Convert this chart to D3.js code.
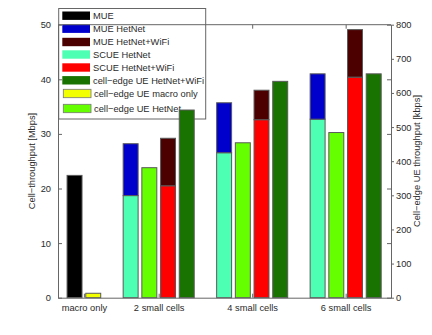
<!DOCTYPE html>
<html><head><meta charset="utf-8">
<script src="https://cdn.jsdelivr.net/npm/d3@7"></script>
<style>body{margin:0;background:#fff}text{font-family:"Liberation Sans",Arial,sans-serif}</style>
</head><body><svg id="c" width="432" height="335"></svg>
<script>
// ---- data ----
const categories = ["macro only","2 small cells","4 small cells","6 small cells"];
const catPos = [1.2, 2, 3, 4];
const mue = [22.4];                         // Mbps, macro only
const cellEdgeMacroOnly = [13];             // kbps, macro only
const scueHetNet = [18.7, 26.55, 32.7];     // Mbps (2,4,6 small cells)
const mueHetNet = [9.5, 9.15, 8.3];         // Mbps, stacked on SCUE HetNet
const scueHetNetWifi = [20.5, 32.6, 40.4];  // Mbps
const mueHetNetWifi = [8.7, 5.4, 8.7];      // Mbps, stacked on SCUE HetNet+WiFi
const cellEdgeHetNet = [381, 454, 484];     // kbps
const cellEdgeHetNetWifi = [550, 634, 656]; // kbps
const leftTicks = [0,10,20,30,40,50];
const rightTicks = [0,100,200,300,400,500,600,700,800];
const legendItems = [
  {label:"MUE", color:"#000000"},
  {label:"MUE HetNet", color:"#0000cc"},
  {label:"MUE HetNet+WiFi", color:"#4c0000"},
  {label:"SCUE HetNet", color:"#4dffb3"},
  {label:"SCUE HetNet+WiFi", color:"#ff0000"},
  {label:"cell\u2212edge UE HetNet+WiFi", color:"#197300"},
  {label:"cell\u2212edge UE macro only", color:"#f2ff00"},
  {label:"cell\u2212edge UE HetNet", color:"#66ff00"}
];
const col = Object.fromEntries(legendItems.map(d=>[d.label,d.color]));

// ---- layout ----
const L=58, R=391, T=24.7, B=297.7;
const FS=9.3, axisCol="#666", txtCol="#2a2a2a", edge="#5a5a5a";
const svg=d3.select("#c");
const x=d3.scaleLinear().domain([0.923,4.485]).range([L,R]);
const yL=d3.scaleLinear().domain([0,50]).range([B,T]);
const yR=d3.scaleLinear().domain([0,800]).range([B,T]);
const bw=0.16, slot=0.2;

// ---- legend (drawn below right-axis bars) ----
const lg=svg.append("g");
lg.append("rect").attr("x",58.7).attr("y",8.5).attr("width",147).attr("height",110.5)
  .attr("fill","#fff").attr("stroke",axisCol).attr("stroke-width",1);
const rowY=[15.7,28.7,42,54.5,67.5,80.3,93.5,108.5];
legendItems.forEach((d,i)=>{
  const off = i>=6 ? 1 : 0;
  lg.append("rect").attr("x",62.3+off).attr("y",rowY[i]-4.2).attr("width",27.7).attr("height",8.4)
    .attr("fill",d.color).attr("stroke", i>=6?"#777":"none").attr("stroke-width",0.8);
  lg.append("text").attr("x",93+off).attr("y",rowY[i]+3.3).attr("font-size",FS).attr("fill",txtCol).text(d.label);
});

// ---- bars ----
const g=svg.append("g");
function bar(xc, y0, y1, color){
  g.append("rect").attr("x",x(xc-bw/2)).attr("width",x(xc+bw/2)-x(xc-bw/2))
   .attr("y",Math.min(y0,y1)).attr("height",Math.abs(y0-y1))
   .attr("fill",color).attr("stroke",edge).attr("stroke-width",1);
}
// macro only
bar(catPos[0]-slot/2, yL(0), yL(mue[0]), col["MUE"]);
bar(catPos[0]+slot/2, yR(0), yR(cellEdgeMacroOnly[0]), col["cell\u2212edge UE macro only"]);
// small cells
for(let i=0;i<3;i++){
  const c=catPos[i+1];
  bar(c-1.5*slot, yL(0), yL(scueHetNet[i]), col["SCUE HetNet"]);
  bar(c-1.5*slot, yL(scueHetNet[i]), yL(scueHetNet[i]+mueHetNet[i]), col["MUE HetNet"]);
  bar(c-0.5*slot, yR(0), yR(cellEdgeHetNet[i]), col["cell\u2212edge UE HetNet"]);
  bar(c+0.5*slot, yL(0), yL(scueHetNetWifi[i]), col["SCUE HetNet+WiFi"]);
  bar(c+0.5*slot, yL(scueHetNetWifi[i]), yL(scueHetNetWifi[i]+mueHetNetWifi[i]), col["MUE HetNet+WiFi"]);
  bar(c+1.5*slot, yR(0), yR(cellEdgeHetNetWifi[i]), col["cell\u2212edge UE HetNet+WiFi"]);
}

// ---- axes ----
const xb=d3.axisBottom(x).tickValues(catPos).tickFormat((d,i)=>categories[i]).tickSizeInner(-4).tickSizeOuter(0).tickPadding(7);
const gb=svg.append("g").attr("transform",`translate(0,${B})`).call(xb);
const xt=d3.axisTop(x).tickValues(catPos).tickFormat("").tickSizeInner(-4).tickSizeOuter(0);
const gt=svg.append("g").attr("transform",`translate(0,${T})`).call(xt);
const yl=d3.axisLeft(yL).tickValues(leftTicks).tickSizeInner(-4).tickSizeOuter(0).tickPadding(7);
const gl=svg.append("g").attr("transform",`translate(${L},0)`).call(yl);
const ylm=d3.axisRight(yL).tickValues(leftTicks).tickFormat("").tickSizeInner(-4).tickSizeOuter(0);
const glm=svg.append("g").attr("transform",`translate(${R},0)`).call(ylm);
const yr=d3.axisRight(yR).tickValues(rightTicks).tickSizeInner(3).tickSizeOuter(0).tickPadding(2);
const gr=svg.append("g").attr("transform",`translate(${R},0)`).call(yr);

[gb,gt,gl,glm,gr].forEach(s=>{
  s.selectAll("path,line").attr("stroke",axisCol);
  s.selectAll("text").attr("font-size",FS).attr("fill",txtCol).attr("font-family","Liberation Sans, Arial, sans-serif");
});
gt.select("path").remove(); glm.select("path").remove();
svg.append("line").attr("x1",L).attr("x2",R).attr("y1",T).attr("y2",T).attr("stroke",axisCol);
svg.node().insertBefore(gt.node(), lg.node());

// axis titles
svg.append("text").attr("transform",`translate(35,161) rotate(-90)`).attr("text-anchor","middle")
  .attr("font-size",FS).attr("fill",txtCol).text("Cell\u2212throughput [Mbps]");
svg.append("text").attr("transform",`translate(420,161) rotate(-90)`).attr("text-anchor","middle")
  .attr("font-size",FS).attr("fill",txtCol).text("Cell\u2212edge UE throughput [kbps]");
</script></body></html>
